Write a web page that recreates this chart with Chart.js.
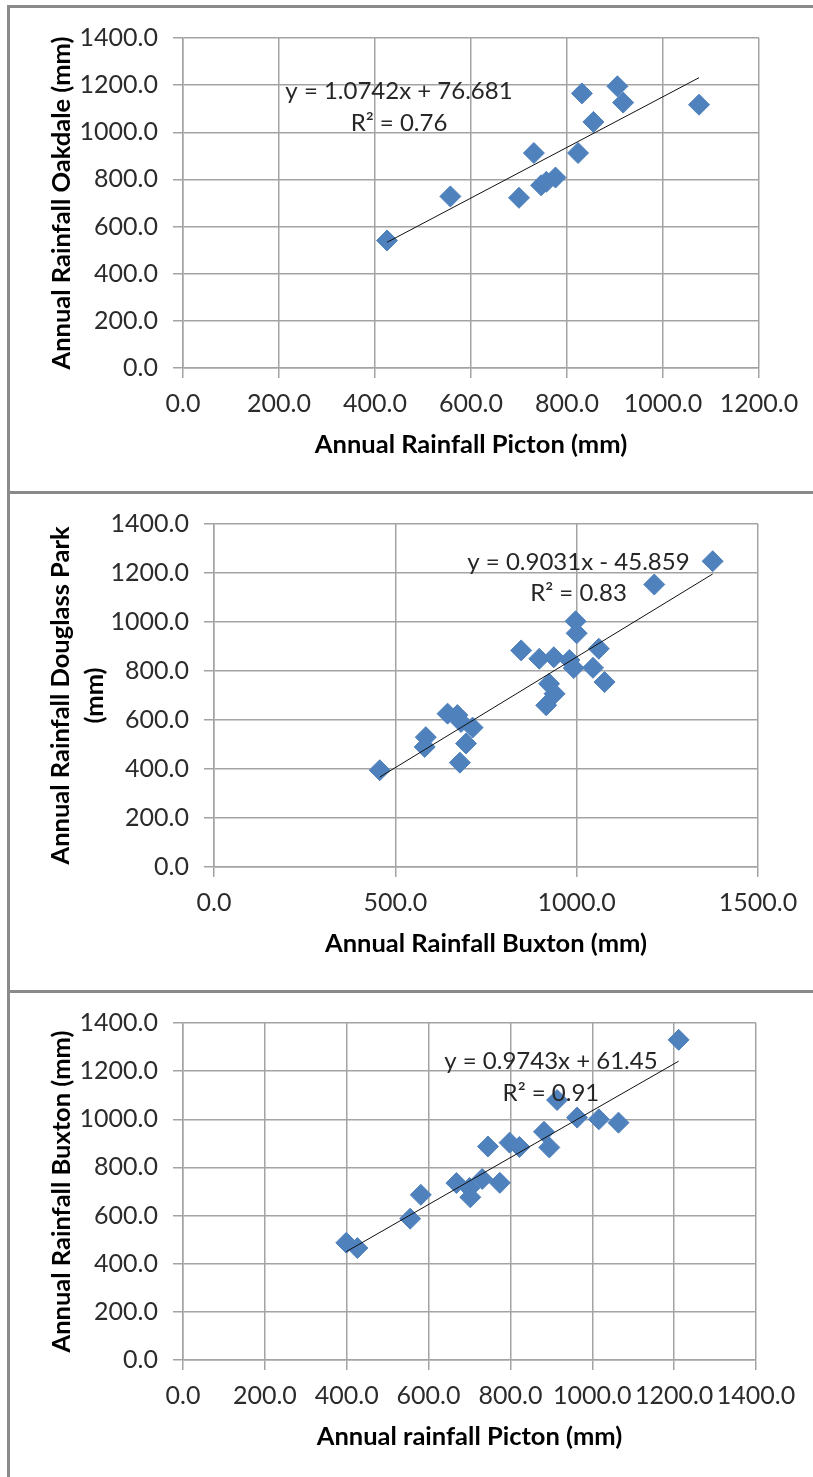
<!DOCTYPE html>
<html>
<head>
<meta charset="utf-8">
<script src="https://cdn.jsdelivr.net/npm/chart.js@4.4.1/dist/chart.umd.min.js"></script>
<style>
  html, body { margin: 0; padding: 0; background: #fff; }
  body { width: 813px; height: 1477px; position: relative; overflow: hidden; }
  .frame { position: absolute; left: 7px; top: 5px; width: 830px; height: 1500px;
           border-left: 3px solid #8a8a8a; border-top: 3px solid #8a8a8a; }
  .divider { position: absolute; left: 7px; width: 806px; height: 3px; background: #8a8a8a; }
  .panel { position: absolute; left: 0; width: 813px; }
</style>
</head>
<body>
<div class="frame"></div>
<div class="divider" style="top:491px"></div>
<div class="divider" style="top:990px"></div>
<div class="panel" style="top:8px;height:483px"><canvas id="chart1"></canvas></div>
<div class="panel" style="top:494px;height:496px"><canvas id="chart2"></canvas></div>
<div class="panel" style="top:993px;height:484px"><canvas id="chart3"></canvas></div>
<script>
// datos
const pictonVsOakdaleX = [425, 557, 700, 731, 746, 757, 776, 823, 831, 855, 905, 917, 1075];
const pictonVsOakdaleY = [541, 728, 722, 912, 775, 790, 808, 912, 1165, 1044, 1195, 1126, 1117];

const buxtonVsDouglassX = [457, 584, 581, 644, 671, 681, 713, 695, 678, 847, 897, 937, 980, 992, 924, 939, 916, 997, 1000, 1061, 1045, 1077, 1214, 1375];
const buxtonVsDouglassY = [395, 530, 490, 626, 620, 592, 569, 504, 426, 884, 850, 856, 845, 812, 748, 707, 660, 1003, 954, 891, 813, 755, 1153, 1248];

const pictonVsBuxtonX = [399, 426, 555, 581, 668, 700, 702, 731, 774, 745, 798, 822, 882, 895, 914, 963, 1016, 1064, 1211];
const pictonVsBuxtonY = [487, 465, 587, 686, 735, 715, 676, 752, 736, 887, 903, 885, 948, 883, 1080, 1007, 1000, 986, 1330];

// lineas de tendencia (ecuaciones del grafico)
const slopes = [1.0742, 0.9031, 0.9743];
const intercepts = [76.681, -45.859, 61.45];
const equations = ['y = 1.0742x + 76.681', 'y = 0.9031x - 45.859', 'y = 0.9743x + 61.45'];
const rSquared = ['R\u00B2 = 0.76', 'R\u00B2 = 0.83', 'R\u00B2 = 0.91'];

const xTitles = ['Annual Rainfall Picton (mm)', 'Annual Rainfall Buxton (mm)', 'Annual rainfall Picton (mm)'];
const yTitles = ['Annual Rainfall Oakdale (mm)', ['Annual Rainfall Douglass Park', '(mm)'], 'Annual Rainfall Buxton (mm)'];

const FONT = 'Lato, "Open Sans", sans-serif';
const GRID = '#a3a3a3';
const BLUE = '#4f81bd';

// plugin para dibujar la ecuacion y el R2
const eqLabels = {
    id: 'eqLabels',
    afterDatasetsDraw(chart, args, opts) {
        const { ctx, scales: { x, y } } = chart;
        ctx.save();
        ctx.font = '24px ' + FONT;
        ctx.fillStyle = '#262626';
        ctx.textAlign = 'center';
        ctx.textBaseline = 'middle';
        const cx = x.getPixelForValue(opts.anchor[0]);
        ctx.fillText(opts.lines[0], cx, y.getPixelForValue(opts.anchor[1]));
        ctx.fillText(opts.lines[1], cx, y.getPixelForValue(opts.anchor[2]));
        ctx.restore();
    }
};

function makeChart(id, k, xs, ys, p) {
    const points = xs.map((v, i) => ({ x: v, y: ys[i] }));
    const ends = [Math.min(...xs), Math.max(...xs)];
    const trend = ends.map(v => ({ x: v, y: slopes[k] * v + intercepts[k] }));

    return new Chart(document.getElementById(id), {
        type: 'scatter',
        data: {
            datasets: [
                { data: trend, showLine: true, borderColor: '#111', borderWidth: 1, pointRadius: 0 },
                { data: points, pointStyle: 'rectRot', pointRadius: 10.5, backgroundColor: BLUE, borderColor: BLUE, borderWidth: 1 }
            ]
        },
        options: {
            responsive: true,
            maintainAspectRatio: false,
            animation: false,
            layout: { padding: { top: p.padTop, right: p.padRight, left: 0, bottom: 0 } },
            plugins: {
                legend: { display: false },
                tooltip: { enabled: false },
                eqLabels: { lines: [equations[k], rSquared[k]], anchor: p.eqAnchor }
            },
            scales: {
                x: {
                    type: 'linear', min: 0, max: p.xMax,
                    ticks: { stepSize: p.xStep, padding: 11, color: '#2b2b2b', font: { family: FONT, size: 25 },
                             maxRotation: 0, autoSkip: false, callback: v => v.toFixed(1) },
                    grid: { color: GRID, lineWidth: 1.5, tickLength: 10, tickColor: GRID },
                    border: { color: GRID, width: 1.5 },
                    title: { display: true, text: xTitles[k], color: '#000',
                             font: { family: FONT, size: 25.5, weight: 'bold' }, padding: { top: 0, bottom: p.xTitlePad } },
                    afterFit: s => { s.height = p.xAxisH; }
                },
                y: {
                    type: 'linear', min: 0, max: 1400,
                    ticks: { stepSize: 200, padding: 15, color: '#2b2b2b', font: { family: FONT, size: 25 },
                             callback: v => v.toFixed(1) },
                    grid: { color: GRID, lineWidth: 1.5, tickLength: 10, tickColor: GRID },
                    border: { color: GRID, width: 1.5 },
                    title: { display: true, text: yTitles[k], color: '#000',
                             font: { family: FONT, size: 25.5, weight: 'bold', lineHeight: p.yTitleLH },
                             padding: { top: p.yTitlePad, bottom: 0 } },
                    afterFit: s => { s.width = p.yAxisW; }
                }
            }
        },
        plugins: [eqLabels]
    });
}

makeChart('chart1', 0, pictonVsOakdaleX, pictonVsOakdaleY, {
    padTop: 29, padRight: 54, xAxisH: 123, yAxisW: 183, xMax: 1200, xStep: 200,
    xTitlePad: 31, yTitlePad: 46, yTitleLH: 1.2, eqAnchor: [450, 1176, 1040]
});
makeChart('chart2', 1, buxtonVsDouglassX, buxtonVsDouglassY, {
    padTop: 29, padRight: 55, xAxisH: 123, yAxisW: 214, xMax: 1500, xStep: 500,
    xTitlePad: 31, yTitlePad: 44, yTitleLH: 1.33, eqAnchor: [1005, 1244, 1116]
});
makeChart('chart3', 2, pictonVsBuxtonX, pictonVsBuxtonY, {
    padTop: 29, padRight: 57, xAxisH: 117, yAxisW: 183, xMax: 1400, xStep: 200,
    xTitlePad: 25, yTitlePad: 46, yTitleLH: 1.2, eqAnchor: [899, 1242, 1109]
});
</script>
</body>
</html>
